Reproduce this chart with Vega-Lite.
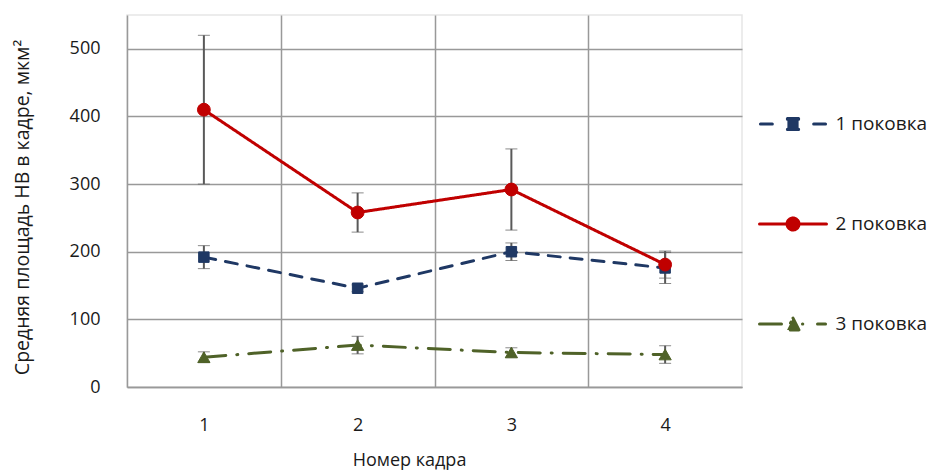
{
  "$schema": "https://vega.github.io/schema/vega-lite/v6.json",
  "width": 615,
  "height": 372,
  "autosize": "none",
  "padding": {"left": 127, "top": 15, "right": 194, "bottom": 84},
  "background": "white",
  "config": {
    "font": "Open Sans",
    "view": {"stroke": "#E6E6E6", "strokeWidth": 1.5},
    "axis": {"labelFont": "Open Sans", "titleFont": "Open Sans", "labelFontSize": 18, "titleFontSize": 18, "labelColor": "#1a1a1a", "titleColor": "#1a1a1a", "titleFontWeight": "normal", "ticks": false, "tickSize": 0, "gridColor": "#999999", "gridWidth": 1.5, "domainColor": "#999999", "domainWidth": 1.5}
  },
  "data": {
    "values": [
      {"series": "1 поковка", "frame": 1, "value": 192, "err": 17},
      {"series": "1 поковка", "frame": 2, "value": 146, "err": 5},
      {"series": "1 поковка", "frame": 3, "value": 200, "err": 13},
      {"series": "1 поковка", "frame": 4, "value": 176, "err": 23},
      {"series": "2 поковка", "frame": 1, "value": 410, "err": 110},
      {"series": "2 поковка", "frame": 2, "value": 258, "err": 29},
      {"series": "2 поковка", "frame": 3, "value": 292, "err": 60},
      {"series": "2 поковка", "frame": 4, "value": 181, "err": 20},
      {"series": "3 поковка", "frame": 1, "value": 44, "err": 8},
      {"series": "3 поковка", "frame": 2, "value": 62, "err": 13},
      {"series": "3 поковка", "frame": 3, "value": 51, "err": 7},
      {"series": "3 поковка", "frame": 4, "value": 48, "err": 13}
    ]
  },
  "resolve": {"axis": {"x": "independent"}},
  "layer": [
    {
      "mark": {"type": "errorbar", "ticks": {"size": 12, "color": "#595959", "strokeWidth": 2}, "rule": {"color": "#595959", "strokeWidth": 2}},
      "encoding": {
        "x": {"field": "frame", "type": "quantitative", "scale": {"domain": [0.5, 4.5], "nice": false, "zero": false},
              "axis": {"orient": "bottom", "values": [1.5, 2.5, 3.5], "grid": true, "labels": false, "domain": false, "title": null}},
        "y": {"field": "value", "type": "quantitative", "scale": {"domain": [0, 550], "nice": false},
              "axis": {"values": [0, 100, 200, 300, 400, 500], "labelPadding": 27, "title": "Средняя площадь НВ в кадре, мкм²", "titleFontSize": 19.5, "titleX": -105, "titleY": 192, "titleAngle": -90, "titleAlign": "center", "titleBaseline": "middle"}},
        "yError": {"field": "err"}
      }
    },
    {
      "mark": {"type": "line", "strokeWidth": 3, "strokeCap": "round", "strokeJoin": "round"},
      "encoding": {
        "x": {"field": "frame", "type": "quantitative",
              "axis": {"orient": "bottom", "values": [1, 2, 3, 4], "grid": false, "domain": true, "labelPadding": 29, "title": "Номер кадра", "titleX": 282, "titleY": 73, "titleBaseline": "middle", "titleAlign": "center"}},
        "y": {"field": "value", "type": "quantitative"},
        "color": {"field": "series", "type": "nominal",
                  "scale": {"domain": ["1 поковка", "2 поковка", "3 поковка"], "range": ["#1F3864", "#C00000", "#4F6228"]},
                  "legend": {
                    "orient": "none", "legendX": 629.5, "legendY": 72.5, "title": null, "padding": 0,
                    "symbolSize": 4900, "symbolStrokeWidth": 3, "labelFont": "Open Sans", "labelFontSize": 19, "labelColor": "#1a1a1a", "labelOffset": 6, "rowPadding": 53,
                    "encode": {"symbols": {"update": {
                      "shape": {"signal": "datum.value === '1 поковка' ? 'M-0.93,0H-0.59M0.59,0H0.93M-0.16,-0.16H0.16V0.16H-0.16Z' : datum.value === '2 поковка' ? 'M-0.957,0H0.957M0.171,0A0.171,0.171,0,1,1,-0.171,0A0.171,0.171,0,1,1,0.171,0Z' : 'M-0.957,0H-0.2M0.27,0H0.28M0.7,0H0.93M0,-0.17L0.17,0.17H-0.17Z'"},
                      "fill": {"signal": "datum.value === '1 поковка' ? '#1F3864' : datum.value === '2 поковка' ? '#C00000' : '#4F6228'"},
                      "stroke": {"signal": "datum.value === '1 поковка' ? '#1F3864' : datum.value === '2 поковка' ? '#C00000' : '#4F6228'"},
                      "strokeWidth": {"value": 3},
                      "strokeDash": {"value": [1, 0]},
                      "strokeCap": {"value": "round"},
                      "strokeJoin": {"value": "round"},
                      "size": {"value": 4900},
                      "opacity": {"value": 1},
                      "fillOpacity": {"value": 1},
                      "strokeOpacity": {"value": 1}
                    }}}
                  }},
        "strokeDash": {"field": "series", "type": "nominal",
                       "scale": {"domain": ["1 поковка", "2 поковка", "3 поковка"], "range": [[12, 10], [1, 0], [22, 11, 1, 11]]},
                       "legend": null}
      }
    },
    {
      "transform": [{"filter": "datum.series === '1 поковка'"}],
      "mark": {"type": "point", "shape": "square", "size": 110, "filled": true, "opacity": 1, "color": "#1F3864", "stroke": "#1F3864", "strokeWidth": 1},
      "encoding": {
        "x": {"field": "frame", "type": "quantitative", "axis": null},
        "y": {"field": "value", "type": "quantitative"}
      }
    },
    {
      "transform": [{"filter": "datum.series === '2 поковка'"}],
      "mark": {"type": "point", "shape": "circle", "size": 165, "filled": true, "opacity": 1, "color": "#C00000", "stroke": "#C00000", "strokeWidth": 1},
      "encoding": {
        "x": {"field": "frame", "type": "quantitative", "axis": null},
        "y": {"field": "value", "type": "quantitative"}
      }
    },
    {
      "transform": [{"filter": "datum.series === '3 поковка'"}],
      "mark": {"type": "point", "shape": "triangle-up", "size": 150, "filled": true, "opacity": 1, "color": "#4F6228", "stroke": "#4F6228", "strokeWidth": 1},
      "encoding": {
        "x": {"field": "frame", "type": "quantitative", "axis": null},
        "y": {"field": "value", "type": "quantitative"}
      }
    }
  ]
}
